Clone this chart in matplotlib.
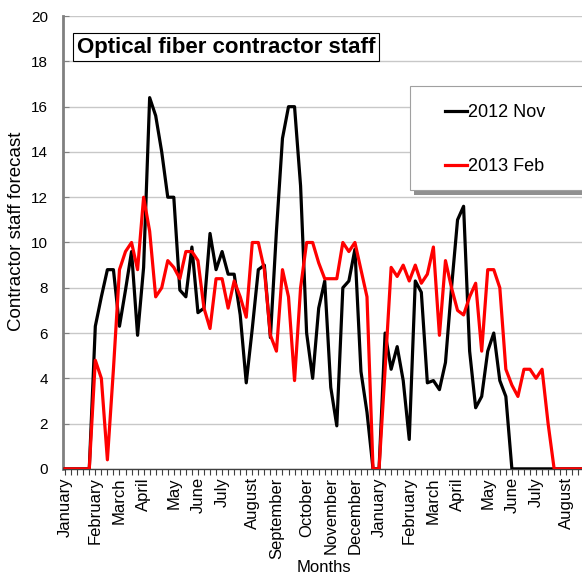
import matplotlib
matplotlib.use("Agg")
import matplotlib.pyplot as plt
from matplotlib.patches import Rectangle

plt.rcParams['font.family'] = ['Liberation Sans', 'DejaVu Sans']

# weekly forecast, Jan 2013 .. Aug 2014 (87 weeks)
nov_2012 = [0, 0, 0, 0, 0, 6.3, 7.6, 8.8, 8.8, 6.3,
            7.9, 9.6, 5.9, 8.9, 16.4, 15.6, 14.0, 12.0, 12.0, 7.9,
            7.6, 9.8, 6.9, 7.1, 10.4, 8.8, 9.6, 8.6, 8.6, 6.8,
            3.8, 6.2, 8.8, 9.0, 5.8, 10.5, 14.6, 16.0, 16.0, 12.5,
            6.0, 4.0, 7.1, 8.3, 3.6, 1.9, 8.0, 8.3, 9.7, 4.3,
            2.5, 0, 0, 6.0, 4.4, 5.4, 3.9, 1.3, 8.3, 7.8,
            3.8, 3.9, 3.5, 4.7, 8.0, 11.0, 11.6, 5.2, 2.7, 3.2,
            5.2, 6.0, 3.9, 3.2, 0, 0, 0, 0, 0, 0,
            0, 0, 0, 0, 0, 0, 0]
feb_2013 = [0, 0, 0, 0, 0, 4.8, 4.0, 0.4, 4.4, 8.8,
            9.6, 10.0, 8.8, 12.0, 10.5, 7.6, 8.0, 9.2, 8.9, 8.4,
            9.6, 9.6, 9.2, 7.1, 6.2, 8.4, 8.4, 7.1, 8.3, 7.6,
            6.7, 10.0, 10.0, 8.8, 5.9, 5.2, 8.8, 7.6, 3.9, 8.0,
            10.0, 10.0, 9.1, 8.4, 8.4, 8.4, 10.0, 9.6, 10.0, 8.8,
            7.6, 0, 0, 4.4, 8.9, 8.5, 9.0, 8.3, 9.0, 8.2,
            8.6, 9.8, 5.9, 9.2, 8.0, 7.0, 6.8, 7.6, 8.2, 5.2,
            8.8, 8.8, 8.0, 4.4, 3.7, 3.2, 4.4, 4.4, 4.0, 4.4,
            2.0, 0, 0, 0, 0, 0, 0]

month_names = ['January', 'February', 'March', 'April', 'May', 'June', 'July',
               'August', 'September', 'October', 'November', 'December',
               'January', 'February', 'March', 'April', 'May', 'June', 'July',
               'August']
month_weeks = [0, 5, 9, 13, 18, 22, 26, 31, 35, 40, 44, 48,
               52, 57, 61, 65, 70, 74, 78, 83]

weeks = list(range(len(nov_2012)))

W, H = 582, 576
fig = plt.figure(figsize=(W / 100, H / 100), dpi=100)
ax = fig.add_axes([0.109, 0.186, 0.895, 0.786])

ax.plot(weeks, nov_2012, color='black', lw=2.3, label='2012 Nov', zorder=3)
ax.plot(weeks, feb_2013, color='#ff0000', lw=2.3, label='2013 Feb', zorder=4)

ax.set_xlim(-0.28, 85.9)
ax.set_ylim(0, 20)
ax.set_yticks(range(0, 21, 2))
ax.grid(axis='y', color='#c8c8c8', lw=1)
ax.set_axisbelow(True)

ax.set_xticks(month_weeks)
ax.set_xticklabels(month_names, rotation=90, fontsize=12)
ax.set_xticks(weeks, minor=True)
ax.tick_params(axis='x', which='both', length=4, width=0.8, color='#404040', pad=2)
ax.tick_params(axis='y', direction='in', length=4, width=0.8, color='#808080',
               labelsize=11, pad=11)

for s in ['top', 'right']:
    ax.spines[s].set_visible(False)
ax.spines['left'].set_color('#808080')
ax.spines['left'].set_linewidth(2)
ax.spines['bottom'].set_color('#404040')
ax.spines['bottom'].set_linewidth(1)

fig.text(17 / W, 1 - 231 / H, 'Contractor staff forecast', fontsize=13.5,
         rotation=90, ha='center', va='center')
fig.text(324 / W, 1 - 567 / H, 'Months', fontsize=12, ha='center', va='center')

ax.text(0.026, 0.931, 'Optical fiber contractor staff', transform=ax.transAxes,
        fontsize=16, fontweight='bold', ha='left', va='center',
        bbox=dict(boxstyle='square,pad=0.16', fc='white', ec='black', lw=0.8))

# legend box (runs off the right edge, with a shadow)
fig.patches.append(Rectangle((414 / W, 1 - 195 / H), 200 / W, 104 / H,
                             transform=fig.transFigure, fc='#909090', ec='none',
                             zorder=5))
fig.patches.append(Rectangle((410 / W, 1 - 190 / H), 200 / W, 104 / H,
                             transform=fig.transFigure, fc='white', ec='#a0a0a0',
                             lw=0.8, zorder=6))
leg = fig.legend(loc='upper left', bbox_to_anchor=(445 / W, 1 - 104 / H),
                 frameon=False, fontsize=13, handlelength=1.2, handletextpad=0.1,
                 labelspacing=2.05, borderaxespad=0, borderpad=0)
leg.set_zorder(7)

fig.savefig('out.png', dpi=100)
